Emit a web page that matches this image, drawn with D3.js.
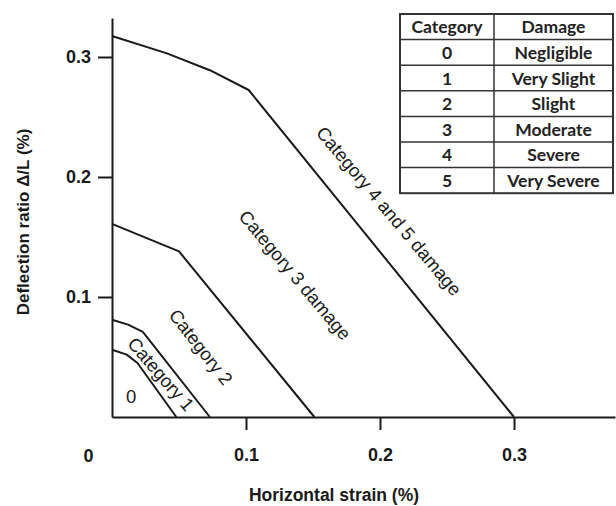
<!DOCTYPE html>
<html>
<head>
<meta charset="utf-8">
<script src="https://cdn.jsdelivr.net/npm/d3@7"></script>
<style>
  html, body { margin: 0; padding: 0; background: #fff; }
  svg { display: block; }
</style>
</head>
<body>
<svg id="chart" width="616" height="506"></svg>
<script>
// ---- data ----
const xTickValues = [0.1, 0.2, 0.3];
const yTickValues = [0.1, 0.2, 0.3];
const xTickLabels = ["0.1", "0.2", "0.3"];
const yTickLabels = ["0.1", "0.2", "0.3"];

// boundary curves (horizontal strain %, deflection ratio %)
const boundary01 = [[0, 0.056], [0.011, 0.052], [0.019, 0.045], [0.048, 0]];
const boundary12 = [[0, 0.081], [0.012, 0.077], [0.023, 0.071], [0.073, 0]];
const boundary23 = [[0, 0.161], [0.05, 0.138], [0.151, 0]];
const boundary34 = [[0, 0.3175], [0.041, 0.303], [0.073, 0.289], [0.102, 0.2725], [0.3, 0]];

const regionNames = ["0", "Category 1", "Category 2", "Category 3 damage", "Category 4 and 5 damage"];
const regionX = [0.0142, 0.0366, 0.0664, 0.1366, 0.2067];
const regionY = [0.0167, 0.0358, 0.0583, 0.1183, 0.1717];
const regionAngle = [0, 49, 52, 50, 50];

const tableHeader = ["Category", "Damage"];
const tableCategories = ["0", "1", "2", "3", "4", "5"];
const tableDamage = ["Negligible", "Very Slight", "Slight", "Moderate", "Severe", "Very Severe"];

// ---- layout ----
const svg = d3.select("#chart");
const x0 = 112, x1 = 615, yBottom = 417, yTop = 18;
const x = d3.scaleLinear().domain([0, (x1 - x0) / 1340]).range([x0, x1]);
const y = d3.scaleLinear().domain([0, (yBottom - yTop) / 1200]).range([yBottom, yTop]);

const ink = "#1a1a1a";
const axisFont = "'Liberation Sans', Arial, sans-serif";

// axes
const xAxis = d3.axisBottom(x).tickValues(xTickValues).tickFormat((d, i) => xTickLabels[i])
  .tickSizeInner(13).tickSizeOuter(0).tickPadding(18);
const gx = svg.append("g").attr("transform", `translate(0,${yBottom})`).call(xAxis);
const yAxis = d3.axisLeft(y).tickValues(yTickValues).tickFormat((d, i) => yTickLabels[i])
  .tickSizeInner(14).tickSizeOuter(0).tickPadding(7);
const gy = svg.append("g").attr("transform", `translate(${x0},0)`).call(yAxis);

[gx, gy].forEach(g => {
  g.select(".domain").attr("stroke", ink).attr("stroke-width", 2);
  g.selectAll(".tick line").attr("stroke", ink).attr("stroke-width", 2);
  g.selectAll(".tick text").attr("fill", ink).attr("font-family", axisFont)
    .attr("font-size", 18).attr("font-weight", "bold");
});

// origin label
svg.append("text").attr("x", 88.5).attr("y", 461.5).attr("text-anchor", "middle")
  .attr("font-family", axisFont).attr("font-size", 18).attr("font-weight", "bold").attr("fill", ink)
  .text("0");

// axis titles
svg.append("text").attr("x", 334).attr("y", 501).attr("text-anchor", "middle")
  .attr("font-family", axisFont).attr("font-size", 17.5).attr("font-weight", "bold").attr("fill", ink)
  .text("Horizontal strain (%)");
svg.append("text").attr("transform", "translate(29,222) rotate(-90)").attr("text-anchor", "middle")
  .attr("font-family", axisFont).attr("font-size", 17).attr("font-weight", "bold").attr("fill", ink)
  .text("Deflection ratio \u0394/L (%)");

// curves
const line = d3.line().x(d => x(d[0])).y(d => y(d[1]));
[boundary01, boundary12, boundary23, boundary34].forEach(b => {
  svg.append("path").attr("d", line(b)).attr("fill", "none")
    .attr("stroke", ink).attr("stroke-width", 2).attr("stroke-linejoin", "round");
});

// region labels
regionNames.forEach((t, i) => {
  svg.append("text")
    .attr("transform", `translate(${x(regionX[i])},${y(regionY[i])}) rotate(${regionAngle[i]})`)
    .attr("text-anchor", "middle").attr("dominant-baseline", "central")
    .attr("font-family", axisFont).attr("font-size", 18.5).attr("fill", ink)
    .text(t);
});

// table
const tLeft = 400, tMid = 494, tRight = 613, tTop = 14, rowH = 25.6;
const nRows = tableCategories.length + 1;
const tg = svg.append("g");
tg.append("rect").attr("x", tLeft).attr("y", tTop).attr("width", tRight - tLeft)
  .attr("height", rowH * nRows).attr("fill", "#fff").attr("stroke", "#333").attr("stroke-width", 2);
tg.append("line").attr("x1", tMid).attr("x2", tMid).attr("y1", tTop).attr("y2", tTop + rowH * nRows)
  .attr("stroke", "#333").attr("stroke-width", 1.5);
d3.range(1, nRows).forEach(r => {
  tg.append("line").attr("x1", tLeft).attr("x2", tRight)
    .attr("y1", tTop + r * rowH).attr("y2", tTop + r * rowH)
    .attr("stroke", "#333").attr("stroke-width", 1.5);
});
const rows = [tableHeader].concat(tableCategories.map((c, i) => [c, tableDamage[i]]));
const tableFont = "Lato, 'Open Sans', sans-serif";
rows.forEach((r, i) => {
  const cy = tTop + (i + 0.5) * rowH;
  tg.append("text").attr("x", (tLeft + tMid) / 2).attr("y", cy)
    .attr("text-anchor", "middle").attr("dominant-baseline", "central")
    .attr("font-family", tableFont).attr("font-size", 17.5).attr("font-weight", "bold").attr("fill", "#222")
    .text(r[0]);
  tg.append("text").attr("x", (tMid + tRight) / 2).attr("y", cy)
    .attr("text-anchor", "middle").attr("dominant-baseline", "central")
    .attr("font-family", tableFont).attr("font-size", 17.5).attr("font-weight", "bold").attr("fill", "#222")
    .text(r[1]);
});
</script>
</body>
</html>
